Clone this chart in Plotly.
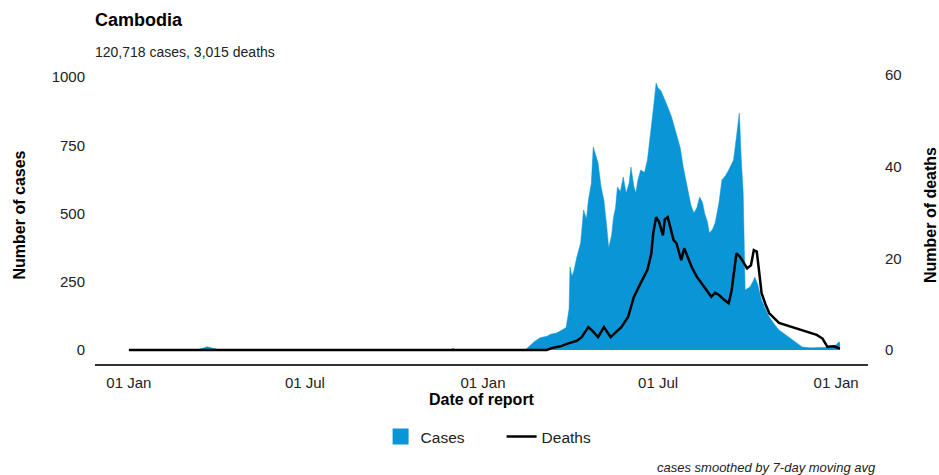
import plotly.graph_objects as go

# ---- data ----
case_dates = [
    "2020-01-01", "2020-03-10", "2020-03-16", "2020-03-22", "2020-03-28", "2020-04-05",
    "2020-11-28", "2020-12-01", "2020-12-04",
    "2021-02-14", "2021-02-17", "2021-02-23", "2021-03-01", "2021-03-08", "2021-03-12",
    "2021-03-18", "2021-03-22", "2021-03-28", "2021-03-31", "2021-04-01", "2021-04-03",
    "2021-04-05", "2021-04-08", "2021-04-12", "2021-04-15", "2021-04-18", "2021-04-20",
    "2021-04-23", "2021-04-25", "2021-04-27", "2021-04-30", "2021-05-03", "2021-05-06",
    "2021-05-09", "2021-05-11", "2021-05-14", "2021-05-16", "2021-05-18", "2021-05-20",
    "2021-05-23", "2021-05-26", "2021-05-29", "2021-06-01", "2021-06-03", "2021-06-06",
    "2021-06-08", "2021-06-10", "2021-06-13", "2021-06-17", "2021-06-20", "2021-06-23",
    "2021-06-26", "2021-06-29", "2021-07-01", "2021-07-04", "2021-07-07", "2021-07-11",
    "2021-07-15", "2021-07-20", "2021-07-24", "2021-07-27", "2021-08-01", "2021-08-04",
    "2021-08-07", "2021-08-10", "2021-08-13", "2021-08-16", "2021-08-18", "2021-08-21",
    "2021-08-23", "2021-08-26", "2021-08-29", "2021-09-02", "2021-09-05", "2021-09-09",
    "2021-09-12", "2021-09-15", "2021-09-17", "2021-09-20", "2021-09-23", "2021-09-25",
    "2021-09-27", "2021-09-29", "2021-10-02", "2021-10-04", "2021-10-07", "2021-10-09",
    "2021-10-12", "2021-10-16", "2021-10-20", "2021-10-24", "2021-10-29", "2021-11-03",
    "2021-11-10", "2021-11-17", "2021-11-22", "2021-11-27", "2021-12-05", "2021-12-12",
    "2021-12-20", "2021-12-28", "2022-01-01", "2022-01-04", "2022-01-05",
]
case_values = [
    0, 0, 5, 12, 6, 0,
    0, 6, 0,
    0, 11, 30, 45, 50, 58,
    62, 70, 82, 150, 304, 270,
    290, 340, 392, 513, 480, 549,
    610, 744, 720, 685, 600, 549,
    450, 374, 420, 487, 520, 597,
    580, 634, 575, 610, 670, 600,
    575, 620, 659, 650, 696, 780,
    879, 978, 960, 950, 927, 890,
    853, 795, 740, 670, 575, 530,
    502, 520, 560, 540, 502, 470,
    429, 440, 465, 540, 623, 640,
    659, 680, 696, 780, 868, 700,
    575, 220, 225, 231, 250, 267,
    240, 183, 150, 121, 95, 73,
    55, 37, 22, 11, 8, 8,
    9, 10, 18, 30, 25,
]

death_dates = [
    "2020-01-01", "2021-03-08", "2021-03-13", "2021-03-22", "2021-03-31", "2021-04-08",
    "2021-04-13", "2021-04-20", "2021-04-25", "2021-04-30", "2021-05-06", "2021-05-13",
    "2021-05-19", "2021-05-24", "2021-05-31", "2021-06-06", "2021-06-13", "2021-06-20",
    "2021-06-24", "2021-06-26", "2021-06-29", "2021-07-02", "2021-07-04", "2021-07-06",
    "2021-07-08", "2021-07-11", "2021-07-14", "2021-07-17", "2021-07-20", "2021-07-25",
    "2021-07-28", "2021-08-05", "2021-08-10", "2021-08-15", "2021-08-20", "2021-08-25",
    "2021-08-29", "2021-09-02", "2021-09-07", "2021-09-12", "2021-09-15", "2021-09-17",
    "2021-09-20", "2021-09-23", "2021-09-26", "2021-10-01", "2021-10-05", "2021-10-08",
    "2021-10-11", "2021-10-13", "2021-10-16", "2021-10-20", "2021-10-24", "2021-11-03",
    "2021-11-17", "2021-11-27", "2021-12-05", "2021-12-12", "2021-12-18", "2021-12-23",
    "2021-12-30", "2022-01-05",
]
death_values = [
    0, 0, 0.4, 0.8, 1.5, 2.0,
    2.8, 5.0, 4.0, 2.8, 5.0, 2.8,
    4.0, 5.0, 7.2, 11.6, 14.6, 17.5,
    21.0, 25.5, 29.0, 28.0, 26.5, 25.0,
    28.5, 29.0, 26.5, 24.0, 23.3, 19.6,
    22.2, 18.0, 16.0, 14.6, 13.0, 11.6,
    12.5, 12.0, 11.0, 10.2, 13.0, 16.0,
    21.1, 20.5, 19.6, 17.8, 18.5, 21.8,
    21.5, 18.0, 12.4, 10.0, 8.0, 5.9,
    5.0, 4.4, 3.8, 3.3, 2.5, 0.7,
    0.8, 0.3,
]

title_text = "Cambodia"
subtitle_text = "120,718 cases, 3,015 deaths"
caption_text = "cases smoothed by 7-day moving avg"
x_tick_vals = ["2020-01-01", "2020-07-01", "2021-01-01", "2021-07-01", "2022-01-01"]
x_tick_text = ["01 Jan", "01 Jul", "01 Jan", "01 Jul", "01 Jan"]
y_ticks = [0, 250, 500, 750, 1000]
y2_ticks = [0, 20, 40, 60]

BLUE = "#0a96d6"
FONT = "Liberation Sans, Arial, Helvetica, sans-serif"
TXT = "#222222"

fig = go.Figure()
fig.add_trace(go.Scatter(
    x=case_dates, y=case_values, mode="lines", fill="tozeroy",
    line=dict(color=BLUE, width=0.5), fillcolor=BLUE,
    name="Cases", showlegend=False, hoverinfo="skip",
))
# legend proxy for cases (square swatch)
fig.add_trace(go.Scatter(x=[None], y=[None], mode="markers",
                         marker=dict(color=BLUE, symbol="square", size=20),
                         name="Cases", showlegend=True))
fig.add_trace(go.Scatter(
    x=death_dates, y=death_values, mode="lines", yaxis="y2",
    line=dict(color="#000000", width=2.5), name="Deaths",
))

fig.update_layout(
    width=939, height=475,
    margin=dict(l=95, r=71, t=66, b=111, autoexpand=False),
    paper_bgcolor="white", plot_bgcolor="white",
    font=dict(family=FONT, color=TXT, size=14),
    showlegend=True,
    legend=dict(orientation="h", x=0.526, xanchor="center", y=-0.245, yanchor="middle",
                font=dict(size=15.5, color=TXT), itemsizing="trace", entrywidth=76,
                itemwidth=30),
    xaxis=dict(
        type="date", range=["2019-11-27", "2022-02-03"], automargin=False,
        tickvals=x_tick_vals, ticktext=x_tick_text,
        showgrid=False, zeroline=False, showline=True, linecolor="#333333", linewidth=1.5,
        ticks="outside", ticklen=4, tickcolor="rgba(0,0,0,0)",
        tickfont=dict(size=15, color=TXT),
        title=dict(text="<b>Date of report</b>", font=dict(size=16, color="#000"), standoff=0),
    ),
    yaxis=dict(
        range=[-51.3, 1040.3], tickvals=y_ticks, automargin=False,
        showgrid=False, zeroline=False, showline=False,
        ticks="outside", ticklen=6, tickcolor="rgba(0,0,0,0)",
        tickfont=dict(size=15, color=TXT),
        title=dict(text="<b>Number of cases</b>", font=dict(size=16, color="#000"), standoff=22),
    ),
    yaxis2=dict(
        overlaying="y", side="right", automargin=False,
        range=[-3.06, 62.0], tickvals=y2_ticks,
        showgrid=False, zeroline=False, showline=False,
        ticks="outside", ticklen=13, tickcolor="rgba(0,0,0,0)",
        tickfont=dict(size=15, color=TXT),
        title=dict(text="<b>Number of deaths</b>", font=dict(size=16, color="#000"), standoff=26),
    ),
    annotations=[
        dict(text="<b>" + title_text + "</b>", xref="paper", yref="paper",
             x=0, y=1, xshift=-2, yshift=46, xanchor="left", yanchor="middle",
             showarrow=False, font=dict(size=18, color="#000")),
        dict(text=subtitle_text, xref="paper", yref="paper",
             x=0, y=1, xshift=-2, yshift=14, xanchor="left", yanchor="middle",
             showarrow=False, font=dict(size=14, color=TXT)),
        dict(text="<i>" + caption_text + "</i>", xref="paper", yref="paper",
             x=1, y=0, xshift=10, yshift=-103, xanchor="right", yanchor="middle",
             showarrow=False, font=dict(size=13, color=TXT)),
    ],
)

fig.write_html("out.html")
